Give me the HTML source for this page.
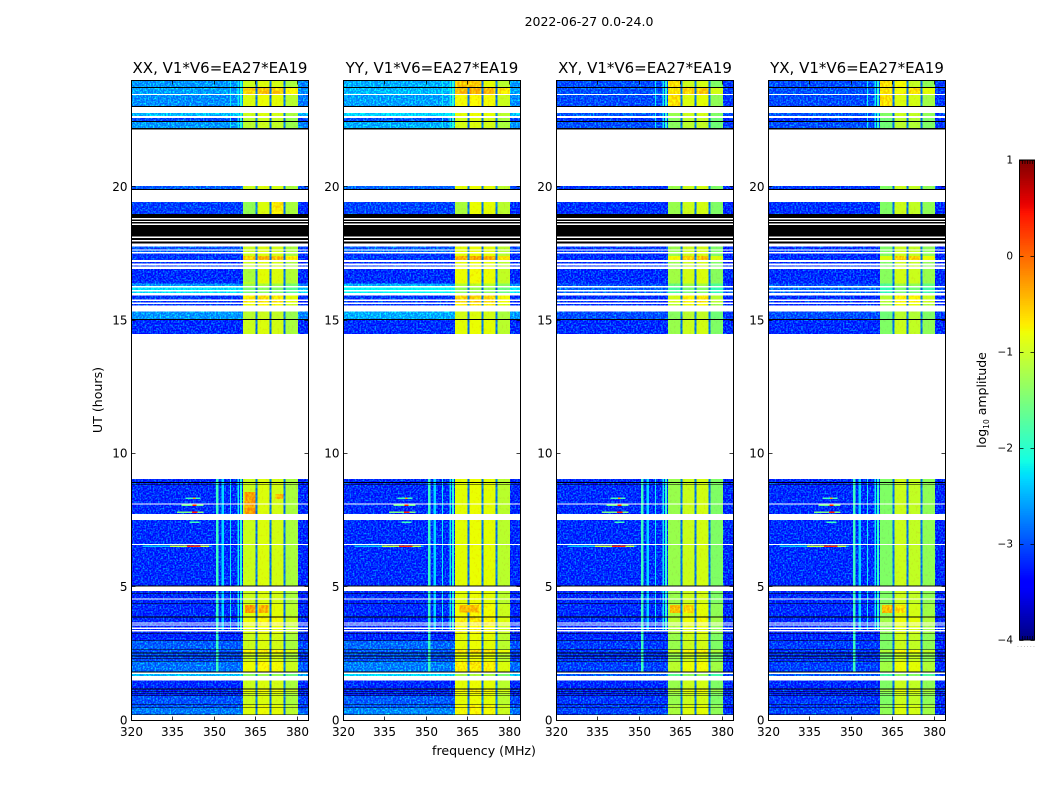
<!DOCTYPE html>
<html>
<head>
<meta charset="utf-8">
<title>2022-06-27 amplitude waterfall</title>
<style>
html,body{margin:0;padding:0;background:#fff;}
svg{display:block;}
text{font-family:"DejaVu Sans","Liberation Sans",sans-serif;fill:#000;}
</style>
</head>
<body>
<svg id="figure" xmlns="http://www.w3.org/2000/svg" width="1050" height="800" viewBox="0 0 1050 800">
<defs>
<filter id="grain" x="0" y="0" width="100%" height="100%" color-interpolation-filters="sRGB">
<feTurbulence type="fractalNoise" baseFrequency="0.6" numOctaves="1" seed="4" result="n"/>
<feColorMatrix in="n" type="matrix" values="0 0 0 0 0  1.7 0 0 0 -0.7  0 0 0 0 0  0 0 0 0 1" result="g"/>
<feComposite in="SourceGraphic" in2="g" operator="arithmetic" k1="0" k2="1" k3="1" k4="0" result="m"/>
<feComposite in="m" in2="SourceAlpha" operator="in"/>
</filter>
<filter id="hotGrain" x="0" y="0" width="100%" height="100%" color-interpolation-filters="sRGB">
<feTurbulence type="fractalNoise" baseFrequency="0.5 0.35" numOctaves="2" seed="9" result="n"/>
<feColorMatrix in="n" type="matrix" values="0 0 0 0 0.04  0.7 0 0 0 -0.22  0 0 0 0 0  0 0 0 0 1" result="g"/>
<feComposite in="SourceGraphic" in2="g" operator="arithmetic" k1="0" k2="1" k3="1" k4="-0.06" result="m"/>
<feComposite in="m" in2="SourceAlpha" operator="in"/>
</filter>
</defs>
<rect width="1050" height="800" fill="#fff"/>
<text x="589" y="26" font-size="12.5" text-anchor="middle">2022-06-27 0.0-24.0</text>
<text x="484" y="755" font-size="12.6" text-anchor="middle">frequency (MHz)</text>
<text transform="translate(102,400) rotate(-90)" font-size="12.6" text-anchor="middle">UT (hours)</text>
<text transform="translate(986,400) rotate(-90)" font-size="12.5" text-anchor="middle">log<tspan font-size="7.5" dy="3">10</tspan><tspan dy="-3"> amplitude</tspan></text>
</svg>
<script>
// ---- panels ----
const panelTitles = ["XX, V1*V6=EA27*EA19","YY, V1*V6=EA27*EA19","XY, V1*V6=EA27*EA19","YX, V1*V6=EA27*EA19"];
const panelContScale = [0.95, 1.15, 0.3, 0.3];
// log10 amplitude of the four sub-bands, per polarisation
const panelHot = [
  [-1.0,-0.9,-0.95,-1.2],
  [-0.85,-0.8,-0.85,-1.1],
  [-1.3,-1.0,-0.95,-1.45],
  [-1.45,-1.0,-1.05,-1.35]
];
// ---- axis labels ----
const xTicks = [320,335,350,365,380];
const yTicks = [0,5,10,15,20];
const cbarTicks = [1,0,-1,-2,-3,-4];
const cbarMinorOffsets = [3,5.5,8,10.5,13];
// ---- time rows, top to bottom (hours UT of each row's upper edge) ----
const rowTop = [
 24.000,23.738,23.700,23.475,23.438,23.025,22.988,22.763,22.650,22.575,22.463,22.425,22.200,22.144,
 20.025,19.913,19.875,19.425,18.975,18.825,18.776,18.713,18.675,18.611,18.563,18.124,18.075,18.000,17.951,17.861,
 17.756,17.651,17.614,17.550,17.486,17.400,17.250,17.175,17.111,17.051,16.999,16.913,16.376,
 16.275,16.219,16.125,16.069,16.013,15.919,15.769,15.713,15.656,15.600,15.551,15.319,15.038,15.000,14.475,
 9.038,8.925,8.888,8.831,8.813,8.126,8.089,7.725,7.500,6.600,6.563,5.036,4.999,4.838,4.744,4.725,4.564,4.526,4.376,4.350,3.881,3.851,3.664,3.626,3.574,3.536,3.461,3.413,3.375,
 3.326,3.244,3.225,2.989,2.963,2.644,2.625,2.524,2.501,2.411,2.389,2.306,2.288,2.213,2.186,1.811,1.774,1.725,1.650,1.474,1.174,1.144,1.088,1.069,1.013,0.994,0.926,0.908,0.589,0.566,0.476,0.458,0.214,0.191
];
// d = data, k = black (zero) row, w = no data
const rowState = "dkdwdkwdwdkdkw"+"dkwdkwkwkwkwkwkw"+"dwdwddwdwdwdd"+"wdwdwdwdwdwdkdw"+"dkdkdwdwdwdkwdkdwdkdkdwdwdwdw"+"dkdkdkdkdkdkdkdkwdwdkdkdkdkdkdkdkw";
// values for the data rows only, in order
const dataCont = [
 -2.6,-2.55,-2.65,-2.4,-3.0,-2.6,
 -2.9,-3.05,
 -2.95,-2.9,-3.1,-3.1,-3.15,-3.1,-3.15,-2.6,
 -2.2,-2.2,-3.1,-3.1,-3.1,-2.6,-3.15,
 -3.15,-3.15,-3.15,-3.15,-3.15,-3.15,-3.15,-3.15,-3.15,-3.15,-3.15,-3.15,-3.15,-3.15,
 -3.2,-3.2,-2.9,-2.95,-2.95,-3.0,-3.0,-2.8,
 -2.4,-3.15,-3.15,-3.2,-3.2,-2.95,-2.95,-2.75
];
const dataHot = [
 0,0.5,0.1,0,-0.1,-0.1,
 0,0,
 0,0,0,0.55,0,0,0.05,-0.3,
 -0.5,-0.5,0.35,0.35,0.2,-0.1,0,
 0,0,0,0,0,0,0,0,0,0.1,0.2,0.2,0.1,0.1,
 0.1,0,0,0.3,0,0,0,0.2,
 -0.4,0,0.2,0.1,0,0,0.1,0.1
];
// index into stripeSets for each data row
const dataStripe = [
 3,3,3,3,3,3,
 0,0,
 0,0,0,0,0,0,0,0,
 0,0,0,0,0,0,0,
 2,2,2,2,2,2,2,2,2,2,2,2,2,2,
 1,1,1,1,1,1,1,1,
 0,0,0,0,0,0,0,0
];
const stripeSets = [[],[0],[0,1,2,3,4],[2,3,4]];
// ---- frequency structure (MHz) ----
const bandLo = [360.4,365.6,370.6,375.7];
const bandHi = [364.9,369.9,375.0,380.2];
const stripeLo = [350.5,352.5,355.6,358.4,359.2];
const stripeHi = [351.5,353.4,356.0,358.9,360.0];
const stripeValue = [-1.9,-2.3,-2.2,-2.2,-2.0];
const gapLo = [364.9,369.9,375.0];
const gapHi = [365.6,370.6,375.7];
const gapValue = [-2.9,-2.9,-2.9];
// ---- bright patches in the sub-bands ----
const spotPanel  = [0,0,0,0,1,2,2,3,3,0,0,0,1,1,2,3,3];
const spotHourHi = [8.55,8.48,4.31,4.31,4.31,4.31,4.31,4.31,4.31,19.43,19.43,16.91,19.43,24,24,24,24];
const spotHourLo = [7.71,8.29,4.01,4.01,4.04,4.01,4.01,4.01,4.01,18.98,18.98,16.40,18.98,23.74,23.03,23.03,23.5];
const spotFreqLo = [360.8,372.0,361.0,366.0,362.0,361.0,366.0,361.0,366.0,360.4,370.6,360.4,360.4,360.4,360.4,360.4,365.6];
const spotFreqHi = [364.9,375.0,364.9,369.5,369.0,364.9,369.5,364.9,369.5,364.9,375.0,364.9,364.9,369.9,364.9,364.9,369.9];
const spotValue  = [-0.2,-0.4,-0.2,-0.3,-0.35,-0.35,-0.5,-0.35,-0.5,-1.35,-0.6,-1.2,-1.2,-0.4,-0.55,-0.55,-0.75];
// ---- narrow RFI streaks near 343 MHz (all panels) ----
const rfiHour = [8.31,8.31,8.05,8.05,7.79,7.79,7.41,6.51,6.51,6.51];
const rfiLo   = [339.5,342.2,338,342,336.5,341.8,341,324,334,340];
const rfiHi   = [345,343.2,346,343.5,346,343.8,344.5,349,348,345];
const rfiVal  = [-1.9,-0.3,-1.6,0.4,-1.5,0.4,-1.9,-2.4,-1.1,0.3];

// ---- axis functions ----
const panelX = [131.5,343.5,556.5,768.5];
const panelW = 177, plotTop = 80, plotBottom = 720;
const freqMin = 320, freqMax = 384, hourMax = 24;
const cbarX = 1019.5, cbarW = 15, cbarTop = 160, cbarBottom = 640;
function xScale(p,f){ return panelX[p] + (f-freqMin)/(freqMax-freqMin)*panelW; }
function yScale(h){ return plotBottom - h/hourMax*(plotBottom-plotTop); }
function cbarY(v){ return cbarBottom - (v+4)/5*(cbarBottom-cbarTop); }
function interp(t,xs,ys){
  if(t<=xs[0]) return ys[0];
  for(let i=1;i<xs.length;i++){ if(t<=xs[i]) return ys[i-1]+(ys[i]-ys[i-1])*(t-xs[i-1])/(xs[i]-xs[i-1]); }
  return ys[ys.length-1];
}
function jet(v){
  const t=Math.max(0,Math.min(1,(v+4)/5));
  const r=interp(t,[0,.35,.66,.89,1],[0,0,1,1,.5]);
  const g=interp(t,[0,.125,.375,.64,.91,1],[0,0,1,1,0,0]);
  const b=interp(t,[0,.11,.34,.65,1],[.5,1,1,0,0]);
  return "rgb("+Math.round(r*255)+","+Math.round(g*255)+","+Math.round(b*255)+")";
}
const NS="http://www.w3.org/2000/svg";
const svg=document.getElementById("figure");
function mk(tag,attrs,parent){
  const el=document.createElementNS(NS,tag);
  for(const k in attrs) el.setAttribute(k,attrs[k]);
  parent.appendChild(el);
  return el;
}
function cell(parent,p,fLo,fHi,yA,yB,v){
  const x0=xScale(p,fLo), x1=xScale(p,fHi);
  return mk("rect",{x:x0.toFixed(2),y:yA.toFixed(2),width:(x1-x0).toFixed(2),height:(yB-yA).toFixed(2),fill:jet(v),"shape-rendering":"crispEdges"},parent);
}

panelTitles.forEach(function(title,p){
  const g=mk("g",{},svg);
  
  
  const contG=mk("g",{filter:"url(#grain)"},g);
  
  
  const markG=mk("g",{},g);
  
  
  const hotG=mk("g",{filter:"url(#hotGrain)"},g);
  
  
  const rfiG=mk("g",{},g);
  
  
  const maskG=mk("g",{},g);
  
  
  let di=0;
  rowTop.forEach(function(top,r){
    const bot = r+1<rowTop.length ? rowTop[r+1] : 0;
    const yA=yScale(top), yB=yScale(bot), st=rowState[r];
    if(st!=="d") return;
    const c=-3.36+(dataCont[di]+3.15)*panelContScale[p];
    const hotAdj=dataHot[di], lvl=dataStripe[di];
    di++;
    const c1=cell(contG,p,freqMin,freqMax,yA,yB,c);
    
    
    const c2=cell(contG,p,bandHi[3],freqMax,yA,yB,c-0.1);
    
    
    stripeSets[lvl].forEach(function(s){
      const e=cell(markG,p,stripeLo[s],stripeHi[s],yA,yB,stripeValue[s]);
      
      
    });
    bandLo.forEach(function(lo,s){
      const e=cell(hotG,p,lo,bandHi[s],yA,yB,panelHot[p][s]+hotAdj);
      
      
    });
    gapLo.forEach(function(lo,s){
      const e=cell(hotG,p,lo,gapHi[s],yA,yB,gapValue[s]);
      
      
    });
  });
  spotPanel.forEach(function(sp,i){
    if(sp!==p) return;
    const e=cell(hotG,p,spotFreqLo[i],spotFreqHi[i],yScale(spotHourHi[i]),yScale(spotHourLo[i]),spotValue[i]);
    
    
  });
  rfiHour.forEach(function(h,i){
    const e=cell(rfiG,p,rfiLo[i],rfiHi[i],yScale(h+0.025),yScale(h-0.025),rfiVal[i]);
    
    
  });
  rowTop.forEach(function(top,r){
    const st=rowState[r];
    if(st==="d") return;
    const bot = r+1<rowTop.length ? rowTop[r+1] : 0;
    const e=mk("rect",{x:panelX[p],y:yScale(top).toFixed(2),width:panelW,height:(yScale(bot)-yScale(top)).toFixed(2),fill:st==="k"?"#000":"#fff","shape-rendering":"crispEdges"},maskG);
    
    
  });
  const frame=mk("rect",{x:panelX[p],y:plotTop+.5,width:panelW,height:plotBottom-plotTop,fill:"none",stroke:"#000","stroke-width":1,"shape-rendering":"crispEdges"},g);
  
  
  const t=mk("text",{x:panelX[p]+panelW/2,y:73,"font-size":15,"text-anchor":"middle"},g);
  t.textContent=title;
  
  
  xTicks.forEach(function(f){
    const x=Math.round(xScale(p,f)-.5)+.5;
    const a=mk("path",{d:"M"+x+" "+(plotBottom+.5)+"v-4M"+x+" "+(plotTop+.5)+"v4",stroke:"#000","stroke-width":.8,fill:"none"},g);
    
    
    const l=mk("text",{x:x,y:736,"font-size":12,"text-anchor":"middle"},g);
    l.textContent=String(f);
    
    
  });
  yTicks.forEach(function(h){
    const y=Math.round(yScale(h)-.5)+.5;
    const a=mk("path",{d:"M"+panelX[p]+" "+y+"h4M"+(panelX[p]+panelW)+" "+y+"h-4",stroke:"#000","stroke-width":.8,fill:"none"},g);
    
    
    const l=mk("text",{x:panelX[p]-4,y:yScale(h)+4.3,"font-size":12,"text-anchor":"end"},g);
    l.textContent=String(h);
    
    
  });
});

// ---- colorbar ----
const cb=mk("g",{},svg);


const cbarSteps=256;
for(let i=0;i<cbarSteps;i++){
  const vLo=-4+5*i/cbarSteps, vHi=-4+5*(i+1)/cbarSteps;
  const s=mk("rect",{x:cbarX,y:cbarY(vHi).toFixed(2),width:cbarW,height:(cbarY(vLo)-cbarY(vHi)+.4).toFixed(2),fill:jet((vLo+vHi)/2),"shape-rendering":"crispEdges"},cb);
  
  
}
cbarMinorOffsets.forEach(function(o){
  const m=mk("path",{d:"M"+(cbarX+o)+" "+cbarTop+"v4M"+(cbarX+o)+" "+cbarBottom+"v-4",stroke:"#000","stroke-width":.7,fill:"none"},cb);
  
  
});
const cf=mk("rect",{x:cbarX,y:cbarTop,width:cbarW,height:cbarBottom-cbarTop,fill:"none",stroke:"#000","stroke-width":1},cb);


cbarTicks.forEach(function(v){
  const y=Math.round(cbarY(v))+.5;
  const a=mk("path",{d:"M"+cbarX+" "+y+"h4M"+(cbarX+cbarW)+" "+y+"h-4",stroke:"#000","stroke-width":.8,fill:"none"},cb);
  
  
  const l=mk("text",{x:1013,y:cbarY(v)+3.5,"font-size":10.5,"text-anchor":"end"},cb);
  l.textContent=(v<0?"\u2212":"")+Math.abs(v);
  
  
});
const dots=mk("text",{x:1017,y:647,"font-size":6,"letter-spacing":"1.3"},cb);
dots.textContent="......";
dots.style.fill='#888';


</script>
</body>
</html>
